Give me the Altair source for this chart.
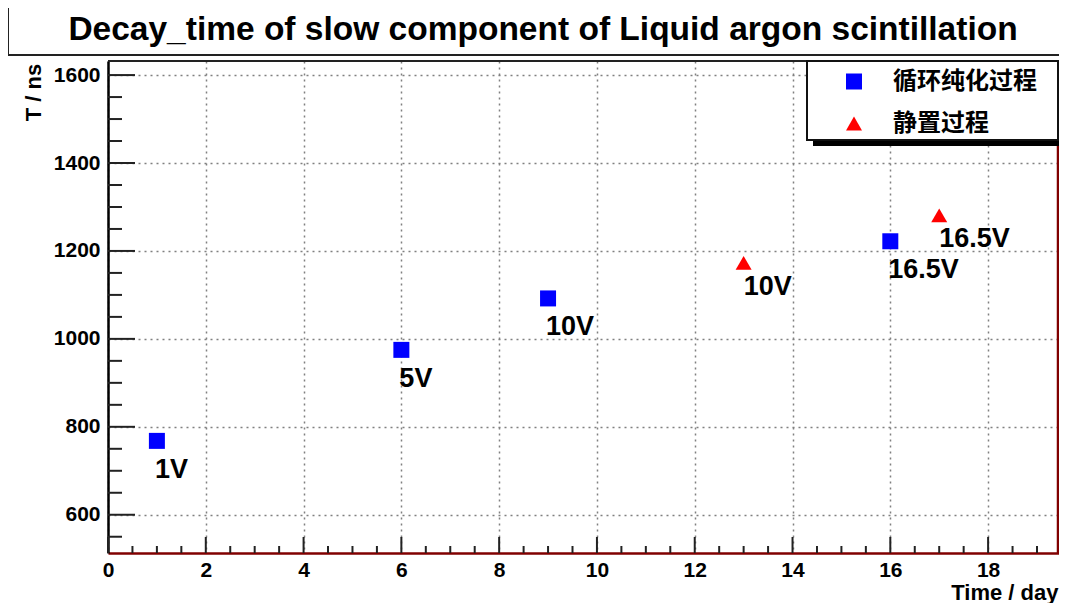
import altair as alt
import pandas as pd

# ---- data ----
purify_day = [1, 6, 9, 16]
purify_tau = [768, 975, 1092, 1222]
purify_label = ["1V", "5V", "10V", "16.5V"]

static_day = [13, 17]
static_tau = [1173, 1281]
static_label = ["10V", "16.5V"]

series_names = ["循环纯化过程", "静置过程"]
series_colors = ["#0000ff", "#ff0000"]
series_shapes = ["square", "triangle-up"]

x_major = [0, 2, 4, 6, 8, 10, 12, 14, 16, 18]
x_minor = [0.5, 1, 1.5, 2.5, 3, 3.5, 4.5, 5, 5.5, 6.5, 7, 7.5, 8.5, 9, 9.5,
           10.5, 11, 11.5, 12.5, 13, 13.5, 14.5, 15, 15.5, 16.5, 17, 17.5, 18.5, 19]
y_major = [600, 800, 1000, 1200, 1400, 1600]
y_minor = [550, 650, 700, 750, 850, 900, 950, 1050, 1100, 1150, 1250, 1300, 1350,
           1450, 1500, 1550]

title_text = "Decay_time of slow component of Liquid argon scintillation"
x_title = "Time / day"
y_title = "T / ns"

W, H = 951, 492
FONT = "Liberation Sans"

pts = pd.DataFrame({
    "day": purify_day + static_day,
    "tau": purify_tau + static_tau,
    "process": [series_names[0]] * len(purify_day) + [series_names[1]] * len(static_day),
    "label": purify_label + static_label,
})
blue = pts[pts.process == series_names[0]]
red = pts[pts.process == series_names[1]]

xscale = alt.Scale(domain=[0, 19.45], nice=False, zero=False)
yscale = alt.Scale(domain=[513, 1632], nice=False, zero=False)

dummy = alt.Data(values=[{"t": title_text}])

# title box and title text (decoration)
title_box = alt.Chart(dummy).mark_rect(fill="white", stroke="#222", strokeWidth=2).encode(
    x=alt.value(-100), x2=alt.value(962), y=alt.value(-54), y2=alt.value(-6))
title_mark = alt.Chart(dummy).mark_text(
    font=FONT, fontSize=33.5, fontWeight="bold", color="black",
    align="center", baseline="middle").encode(
    x=alt.value(435), y=alt.value(-31), text="t:N")

# base layer with axes
base = alt.Chart(pts).mark_point(opacity=0).encode(
    x=alt.X("day:Q", scale=xscale, axis=alt.Axis(
        values=x_major, title=x_title, grid=True, ticks=False, tickSize=0, format="d",
        domainColor="#800000", domainWidth=2.5,
        labelFont=FONT, labelFontSize=21, labelFontWeight="bold", labelColor="black",
        labelPadding=6, labelFlush=False,
        titleFont=FONT, titleFontSize=22, titleFontWeight="bold", titleColor="black",
        titleX=W - 1, titleY=46, titleAlign="right", titleBaseline="alphabetic",
        gridColor="#808080", gridDash=[2, 4], gridWidth=1.5, gridOpacity=1, zindex=0)),
    y=alt.Y("tau:Q", scale=yscale, axis=alt.Axis(
        values=y_major, title=y_title, grid=True, ticks=False, tickSize=0, format="d",
        domainColor="black", domainWidth=2.5,
        labelFont=FONT, labelFontSize=21, labelFontWeight="bold", labelColor="black",
        labelPadding=8,
        titleFont=FONT, titleFontSize=22, titleFontWeight="bold", titleColor="black",
        titleAngle=270, titleX=-75, titleY=31, titleAlign="center", titleBaseline="middle",
        gridColor="#808080", gridDash=[2, 4], gridWidth=1.5, gridOpacity=1, zindex=0)),
)

# inward tick marks
ymaj = alt.Chart(pd.DataFrame({"tau": y_major})).mark_rule(color="#222", strokeWidth=2).encode(
    y="tau:Q", x=alt.value(0), x2=alt.value(27))
ymin = alt.Chart(pd.DataFrame({"tau": y_minor})).mark_rule(color="#222", strokeWidth=2).encode(
    y="tau:Q", x=alt.value(0), x2=alt.value(14))
xmaj = alt.Chart(pd.DataFrame({"day": x_major})).mark_rule(color="#222", strokeWidth=2).encode(
    x="day:Q", y=alt.value(H), y2=alt.value(H - 16))
xmin = alt.Chart(pd.DataFrame({"day": x_minor})).mark_rule(color="#222", strokeWidth=2).encode(
    x="day:Q", y=alt.value(H), y2=alt.value(H - 7))

# frame top and right
frame_top = alt.Chart(dummy).mark_rule(color="#222", strokeWidth=2).encode(
    x=alt.value(0), x2=alt.value(W), y=alt.value(0))
frame_right = alt.Chart(dummy).mark_rule(color="#800000", strokeWidth=2.5).encode(
    x=alt.value(W - 1), y=alt.value(0), y2=alt.value(H))

# legend box with shadow (decoration)
leg_shadow = alt.Chart(dummy).mark_rect(fill="black").encode(
    x=alt.value(705), x2=alt.value(W + 8), y=alt.value(6), y2=alt.value(85))
leg_box = alt.Chart(dummy).mark_rect(fill="white", stroke="#111", strokeWidth=2).encode(
    x=alt.value(699), x2=alt.value(W - 1), y=alt.value(0), y2=alt.value(79))

legend = alt.Legend(
    orient="none", legendX=734, legendY=8.5, title=None, padding=0,
    symbolSize=256, symbolStrokeWidth=0, symbolOpacity=1,
    labelFont="Noto Sans CJK SC", labelFontSize=24, labelFontWeight="bold",
    labelColor="black", labelOffset=27, rowPadding=18, labelLimit=300)

points = alt.Chart(pts).mark_point(filled=True, size=256, opacity=1).encode(
    x=alt.X("day:Q", scale=xscale),
    y=alt.Y("tau:Q", scale=yscale),
    color=alt.Color("process:N", scale=alt.Scale(domain=series_names, range=series_colors),
                    legend=legend),
    shape=alt.Shape("process:N", scale=alt.Scale(domain=series_names, range=series_shapes),
                    legend=legend),
)

blue_text = alt.Chart(blue).mark_text(
    font=FONT, fontSize=27, fontWeight="bold", color="black",
    align="left", baseline="alphabetic", dx=-2, dy=37).encode(
    x="day:Q", y="tau:Q", text="label:N")
red_text = alt.Chart(red).mark_text(
    font=FONT, fontSize=27, fontWeight="bold", color="black",
    align="left", baseline="alphabetic", dx=0, dy=32).encode(
    x="day:Q", y="tau:Q", text="label:N")

chart = alt.layer(
    base, ymaj, ymin, xmaj, xmin, frame_top, frame_right,
    leg_shadow, leg_box, points, blue_text, red_text, title_box, title_mark
).properties(
    width=W, height=H,
    autosize=alt.AutoSizeParams(type="none"),
    padding={"left": 100, "top": 53, "right": 0, "bottom": 50},
    background="white",
).configure_view(strokeWidth=0)

chart.save("out.html", embed_options={"renderer": "svg", "actions": False})
